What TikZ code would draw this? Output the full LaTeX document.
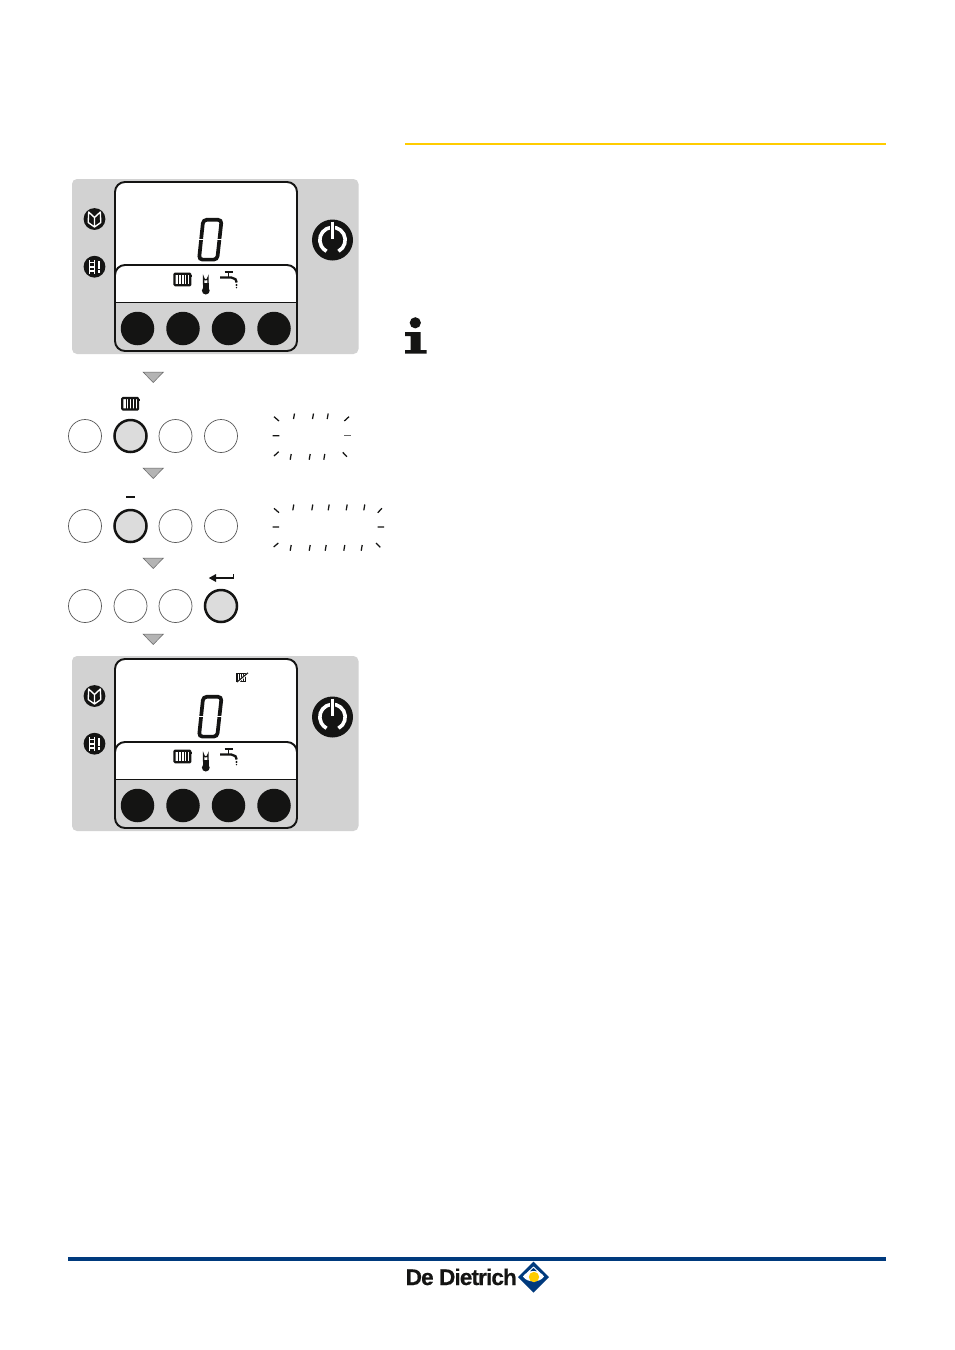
\documentclass[tikz,border=0pt]{standalone}
\usepackage{fontspec}
\setmainfont{Liberation Sans}
\newfontfamily\logofont[LetterSpace=-4,BoldFeatures={FakeBold=0.5}]{Liberation Sans}
\definecolor{panelgray}{HTML}{D2D2D2}
\definecolor{btngray}{HTML}{DCDCDC}
\definecolor{arrowgray}{HTML}{B4B4B4}
\definecolor{inkblack}{HTML}{141413}
\definecolor{ruleyellow}{HTML}{FFCC00}
\definecolor{ruleblue}{HTML}{003A7D}
\tikzset{
  ink/.style={draw=inkblack,line width=1.9pt},
  softkey/.style={circle,fill=inkblack,minimum size=33.5pt,inner sep=0pt},
  keyplain/.style={circle,draw=black!65,line width=.7pt,fill=white,minimum size=33pt,inner sep=0pt},
  keyactive/.style={circle,draw=inkblack,line width=2.5pt,fill=btngray,minimum size=32pt,inner sep=0pt},
  downtri/.style={fill=arrowgray,draw=black!60,line width=.5pt},
  tick/.style={draw=inkblack,line width=1.25pt},
}
\newcommand{\radiatoricon}[2]{%
  \begin{scope}[shift={(#1,#2)}]
    \draw[draw=inkblack,line width=2.2pt,fill=white,rounded corners=.8pt] (0,0) rectangle (15.8,11.5);
    \foreach \vx in {4,6.9,9.8,12.6} \draw[draw=inkblack,line width=1.5pt] (\vx,0.5) -- (\vx,11);
    \fill[inkblack] (16.4,1.2) rectangle (17.8,2.8);
  \end{scope}}
\newcommand{\panelunit}[2]{%
  \begin{scope}[shift={(0,#1)}]
    \fill[panelgray,rounded corners=5pt] (72,179) rectangle (358.5,354);
    \fill[white,rounded corners=10pt] (115,182) rectangle (297,351);
    \fill[panelgray,rounded corners=10pt] (115,290) -- (115,351) -- (297,351) -- (297,290) -- cycle;
    \fill[white] (115.5,290) rectangle (296.5,302.5);
    \draw[ink,rounded corners=10pt,fill=white] (115,302.5) -- (115,265) -- (297,265) -- (297,302.5);
    \draw[ink] (115,302.5) -- (297,302.5);
    \draw[ink,rounded corners=10pt] (115,182) rectangle (297,351);
    \node[softkey] (#2k1) at (137.5,328.5) {};
    \node[softkey] (#2k2) at (183,328.5) {};
    \node[softkey] (#2k3) at (228.5,328.5) {};
    \node[softkey] (#2k4) at (274,328.5) {};
    % book
    \fill[inkblack] (94.5,219) circle (10.9);
    \draw[white,line width=1.35pt,line join=round] (94.5,227) -- (94.5,217.5) -- (88.7,212) -- (88.2,222.5) -- (94.5,227) -- (100.8,222.5) -- (100.3,212) -- (94.5,217.5);
    % ladder
    \fill[inkblack] (94.5,266.7) circle (10.9);
    \draw[white,line width=1.2pt] (89.3,260) -- (89.3,273.5) (94.3,260) -- (94.3,273.5)
       (89.3,262.8) -- (94.3,262.8) (89.3,266.9) -- (94.3,266.9) (89.3,271) -- (94.3,271);
    \draw[white,line width=2.4pt] (98.7,261) -- (98.7,268.5) (98.7,270.3) -- (98.7,272.6);
    % power
    \fill[inkblack] (332.5,240) circle (20.5);
    \draw[white,line width=3.6pt] (332.5,240) ++(62:12.7) arc (62:-242:12.7);
    \draw[inkblack,line width=5pt] (332.5,222) -- (332.5,239);
    \draw[white,line width=2.4pt] (332.5,221.5) -- (332.5,238.5);
    % digit
    \draw[inkblack,line width=3.7pt,rounded corners=3.5pt] (203.2,219.8) -- (221.6,219.8) -- (217.2,259.6) -- (199,259.6) -- cycle;
    \draw[white,line width=.9pt] (198.5,239.5) -- (204.3,239.5) (216.7,239.5) -- (222.7,239.5);
    % bottom band icons
    \radiatoricon{174.5}{273.7}
    \draw[inkblack,line width=1.3pt,fill=white] (203.6,284) -- (203.6,277.6) arc (180:0:2.2) -- (208,284) -- cycle;
    \fill[inkblack] (203,283) rectangle (208.6,291);
    \fill[inkblack] (205.8,290.6) circle (3.9);
    \draw[inkblack,line width=2pt] (224.5,271.8) -- (232.5,271.8);
    \draw[inkblack,line width=1.8pt] (228.5,271.8) -- (228.5,277);
    \draw[inkblack,line width=2.3pt] (220,277.4) -- (231,277.4) -- (235.5,279.2) -- (236.7,282.5);
    \fill[inkblack] (236.5,285) circle (1.1);
    \fill[inkblack] (236.5,287.6) circle (.8);
  \end{scope}}
\newcommand{\downarrowtri}[1]{\draw[downtri] (143,#1) -- (163.5,#1) -- (153.2,#1+10.5) -- cycle;}
\newcommand{\keyrow}[3]{%
  \foreach \kx [count=\ki] in {85,130.5,175.5,221} {
    \ifnum\ki=#2\relax
      \node[keyactive] (#3\ki) at (\kx,#1) {};
    \else
      \node[keyplain] (#3\ki) at (\kx,#1) {};
    \fi
  }}
\begin{document}
\begin{tikzpicture}[x=1pt,y=-1pt]
  \useasboundingbox (0,0) rectangle (954,1350);
  \fill[white] (0,0) rectangle (954,1350);
  % header rule
  \draw[ruleyellow,line width=2pt] (405,144.2) -- (886,144.2);
  % info sign
  \fill[inkblack] (415.3,322.8) circle (5.6);
  \fill[inkblack] (405,332) -- (420.5,332) -- (420.5,350) -- (426.5,350) -- (426.5,353.5) -- (405,353.5) -- (405,350) -- (410.5,350) -- (410.5,336) -- (405,336) -- cycle;
  % panels
  \panelunit{0}{a}
  \panelunit{477}{b}
  % struck-out symbol of lower panel
  \draw[inkblack,line width=1.1pt,fill=white] (237,673.5) rectangle (245.5,681.5);
  \foreach \vx in {239.2,241.2,243.2} \draw[inkblack,line width=.85pt] (\vx,674) -- (\vx,681);
  \draw[white,line width=2pt] (238,682) -- (248,673.2);
  \draw[inkblack,line width=1.1pt] (237,682) -- (248,672.8);
  % arrows
  \downarrowtri{372}
  \downarrowtri{468}
  \downarrowtri{558}
  \downarrowtri{634}
  % key rows
  \keyrow{436}{2}{r}
  \keyrow{526}{2}{s}
  \keyrow{606}{4}{t}
  % key captions
  \radiatoricon{122.3}{398}
  \draw[inkblack,line width=2pt] (126,497) -- (135,497);
  \draw[inkblack,line width=1.8pt] (233.5,574.3) -- (233.5,578) -- (214,578);
  \fill[inkblack] (208.8,578) -- (216,574) -- (216,582) -- cycle;
  % blink ticks, first display
  \draw[tick] (274,416.7) -- (279,421) (293.5,419) -- (294.5,413.5) (312.5,419) -- (313.5,413.5) (327.2,419) -- (328.2,413.5)
     (344.3,421) -- (349,416.7) (272.7,435.7) -- (279.3,435.7)
     (274,456) -- (278.7,451.7) (290.2,459.7) -- (291.2,454) (309.2,459.7) -- (310.2,454) (323.8,459.7) -- (324.8,454)
     (342.7,452.3) -- (347,456.7);
  \draw[tick,draw=black!60] (344.3,435.7) -- (351,435.7);
  % blink ticks, second display
  \draw[tick] (274,508.3) -- (279,512.7)
     (292.8,510.3) -- (293.8,504.5) (311.8,510.3) -- (312.8,504.5) (328.2,510.3) -- (329.2,504.5) (346.2,510.3) -- (347.2,504.5) (363.8,510.3) -- (364.8,504.5)
     (377.7,512.7) -- (382,508.3) (272.7,527) -- (279,527) (377.7,527) -- (384,527)
     (273.7,547) -- (278.3,543)
     (290.2,550.7) -- (291.2,545) (309.2,550.7) -- (310.2,545) (325.2,550.7) -- (326.2,545) (343.8,550.7) -- (344.8,545) (361.2,550.7) -- (362.2,545)
     (376,543) -- (380.3,547.3);
  % footer
  \draw[ruleblue,line width=3.6pt] (68,1259) -- (886,1259);
  \node[anchor=base west,inner sep=0pt,text=inkblack] (brand) at (405.5,1285) {\logofont\fontsize{22.6}{22.6}\selectfont\bfseries De Dietrich};
  % emblem
  \fill[ruleblue] (533.5,1261.5) -- (549,1277) -- (533.5,1292.5) -- (518,1277) -- cycle;
  \fill[white] (523,1276.5) .. controls (527,1269.5) and (540,1269.5) .. (544,1276.5) .. controls (540,1283) and (527,1283) .. (523,1276.5) -- cycle;
  \fill[white] (533.5,1266.5) -- (540.5,1273) -- (526.5,1273) -- cycle;
  \fill[ruleblue] (533.5,1268) -- (537,1271.3) -- (533.5,1270.7) -- (530,1271.3) -- cycle;
  \fill[ruleyellow] (534,1277) circle (5.2);
\end{tikzpicture}
\end{document}
